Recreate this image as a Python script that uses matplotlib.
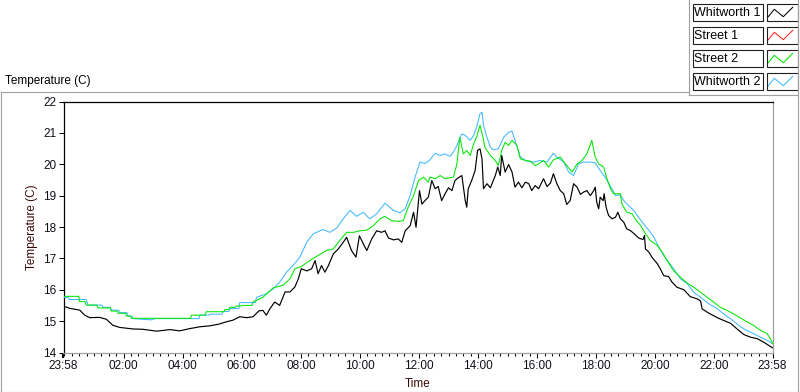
import matplotlib
matplotlib.use("Agg")
import matplotlib.pyplot as plt
from matplotlib.lines import Line2D
from matplotlib.patches import Rectangle

# ---------------- data (minutes since midnight, start 23:58 = -2) ----------------
w1_t = [-2, 10, 31, 41, 51, 71, 85, 98, 112, 139, 159, 187, 214, 234, 254, 275, 295, 315,
        329, 342, 356, 370, 383, 395, 403, 410, 417, 427, 437, 448, 458, 468, 475, 481, 492,
        502, 509, 515, 522, 529, 536, 546, 556, 566, 573, 583, 592, 599, 607, 614, 624, 634,
        644, 651, 658, 668, 678, 685, 692, 702, 709, 714, 721, 726, 732, 739, 746, 753, 759,
        766, 773, 780, 787, 793, 800, 807, 814, 817, 820, 827, 834, 839, 844, 848, 851, 858,
        865, 875, 880, 885, 888, 895, 902, 909, 915, 922, 929, 936, 943, 949, 956, 963, 973,
        980, 987, 993, 1000, 1007, 1014, 1020, 1027, 1034, 1041, 1048, 1054, 1061, 1068, 1075,
        1078, 1081, 1085, 1088, 1094, 1096, 1100, 1105, 1112, 1119, 1124, 1129, 1136, 1142,
        1149, 1156, 1166, 1175, 1178, 1180, 1187, 1193, 1204, 1210, 1217, 1227, 1234, 1244,
        1258, 1271, 1285, 1292, 1295, 1309, 1326, 1339, 1353, 1366, 1380, 1393, 1407, 1420,
        1431, 1438]
w1_v = [15.48, 15.41, 15.35, 15.19, 15.11, 15.12, 15.06, 14.87, 14.80, 14.75, 14.74, 14.68,
        14.73, 14.69, 14.76, 14.82, 14.85, 14.91, 14.98, 15.03, 15.14, 15.11, 15.14, 15.33,
        15.34, 15.19, 15.39, 15.61, 15.50, 15.93, 15.93, 16.09, 16.35, 16.67, 16.60, 16.67,
        16.93, 16.51, 16.77, 16.56, 16.77, 17.14, 17.30, 17.51, 17.67, 17.25, 17.04, 17.72,
        17.46, 17.25, 17.62, 17.88, 17.83, 17.88, 17.65, 17.59, 17.62, 17.51, 17.88, 18.04,
        18.47, 17.99, 19.16, 18.73, 18.84, 18.95, 19.48, 19.22, 19.29, 18.84, 19.06, 19.25,
        19.16, 19.48, 19.57, 19.64, 18.84, 18.63, 19.22, 19.48, 19.80, 20.44, 20.49, 20.17,
        19.22, 19.38, 19.25, 19.64, 19.91, 19.64, 20.28, 19.75, 19.99, 19.75, 19.27, 19.43,
        19.25, 19.43, 19.38, 19.16, 19.32, 19.22, 19.54, 19.29, 19.40, 19.70, 19.38, 19.16,
        19.06, 18.72, 18.84, 19.38, 19.27, 19.04, 19.11, 19.16, 19.00, 19.16, 19.27, 18.79,
        18.58, 18.95, 18.84, 19.06, 18.63, 18.37, 18.26, 18.31, 18.47, 18.26, 18.15, 17.94,
        17.89, 17.80, 17.65, 17.60, 17.73, 17.30, 17.20, 17.04, 16.83, 16.67, 16.45, 16.42,
        16.24, 16.08, 16.00, 15.78, 15.71, 15.64, 15.39, 15.25, 15.11, 15.02, 14.93, 14.75,
        14.57, 14.49, 14.44, 14.33, 14.22, 14.15]

s1_t = []
s1_v = []

s2_t = [-2, 29, 31, 42, 44, 66, 68, 93, 95, 107, 109, 124, 126, 134, 136, 256, 258, 286, 288,
        324, 326, 334, 336, 347, 349, 358, 360, 381, 383, 403, 424, 444, 458, 468, 481, 498,
        515, 532, 546, 559, 573, 587, 600, 614, 627, 641, 651, 664, 678, 688, 698, 709, 719,
        729, 739, 742, 753, 763, 773, 783, 790, 797, 803, 810, 817, 824, 831, 837, 844, 850,
        854, 865, 875, 881, 888, 895, 902, 909, 919, 926, 936, 946, 956, 963, 973, 983, 993,
        1007, 1020, 1031, 1041, 1051, 1061, 1071, 1078, 1085, 1095, 1102, 1109, 1115, 1129,
        1132, 1142, 1153, 1159, 1170, 1180, 1190, 1204, 1214, 1224, 1237, 1251, 1265, 1278,
        1292, 1305, 1319, 1332, 1346, 1359, 1373, 1387, 1400, 1414, 1427, 1436, 1438]
s2_v = [15.79, 15.79, 15.62, 15.62, 15.51, 15.51, 15.42, 15.42, 15.32, 15.32, 15.25, 15.25,
        15.16, 15.16, 15.09, 15.09, 15.19, 15.19, 15.30, 15.30, 15.37, 15.37, 15.44, 15.44,
        15.48, 15.48, 15.50, 15.50, 15.61, 15.76, 16.06, 16.14, 16.35, 16.67, 16.74, 16.93,
        17.09, 17.25, 17.30, 17.57, 17.83, 17.83, 17.88, 17.90, 18.04, 18.26, 18.34, 18.20,
        18.18, 18.20, 18.63, 19.00, 19.48, 19.59, 19.43, 19.59, 19.54, 19.64, 19.54, 19.57,
        19.59, 20.01, 20.86, 20.33, 20.44, 20.28, 20.65, 20.86, 21.24, 20.86, 20.54, 20.28,
        20.12, 19.96, 20.44, 20.70, 20.60, 20.76, 20.60, 20.17, 20.12, 20.10, 19.96, 20.01,
        20.12, 19.91, 20.14, 20.23, 19.96, 19.75, 20.01, 20.12, 20.33, 20.76, 20.23, 20.01,
        19.91, 19.53, 19.22, 19.06, 19.06, 18.74, 18.47, 18.42, 18.26, 18.05, 17.78, 17.57,
        17.41, 17.20, 16.93, 16.61, 16.40, 16.21, 16.08, 15.92, 15.76, 15.60, 15.44, 15.34,
        15.23, 15.10, 14.97, 14.86, 14.70, 14.60, 14.38, 14.28]

w2_t = [-2, 8, 10, 44, 48, 76, 78, 93, 95, 110, 112, 127, 129, 137, 139, 175, 185, 273, 275,
        293, 295, 320, 322, 334, 336, 354, 356, 388, 390, 410, 424, 437, 451, 464, 478, 492,
        505, 525, 539, 553, 566, 580, 593, 607, 620, 634, 651, 668, 681, 692, 702, 712, 722,
        732, 742, 753, 763, 773, 783, 790, 797, 807, 814, 824, 831, 837, 844, 848, 851, 858,
        865, 871, 881, 892, 902, 909, 915, 926, 939, 953, 966, 980, 993, 1000, 1014, 1024,
        1034, 1044, 1054, 1068, 1078, 1088, 1098, 1109, 1119, 1129, 1136, 1146, 1156, 1166,
        1176, 1187, 1197, 1207, 1217, 1227, 1237, 1251, 1265, 1278, 1292, 1309, 1326, 1339,
        1353, 1366, 1380, 1393, 1407, 1420, 1434, 1438]
w2_v = [15.76, 15.76, 15.69, 15.69, 15.51, 15.51, 15.44, 15.44, 15.35, 15.35, 15.27, 15.27,
        15.16, 15.16, 15.08, 15.04, 15.08, 15.08, 15.19, 15.19, 15.22, 15.22, 15.31, 15.31,
        15.40, 15.40, 15.59, 15.59, 15.76, 15.87, 16.03, 16.24, 16.56, 16.77, 17.04, 17.51,
        17.78, 17.92, 17.83, 17.97, 18.26, 18.53, 18.34, 18.47, 18.26, 18.42, 18.76, 18.53,
        18.45, 18.58, 19.00, 19.59, 20.07, 20.02, 20.14, 20.35, 20.28, 20.33, 20.25, 20.39,
        20.60, 20.97, 20.92, 20.76, 20.92, 21.18, 21.61, 21.66, 21.24, 20.86, 20.54, 20.46,
        20.49, 20.86, 21.02, 21.05, 20.76, 20.23, 20.10, 20.07, 20.12, 20.07, 20.35, 20.23,
        20.07, 19.75, 19.64, 20.01, 20.07, 20.07, 20.04, 19.80, 19.59, 19.30, 19.00, 19.03,
        18.84, 18.68, 18.53, 18.31, 18.10, 17.89, 17.68, 17.36, 17.09, 16.88, 16.67, 16.35,
        16.19, 15.92, 15.76, 15.55, 15.39, 15.23, 15.07, 14.91, 14.75, 14.65, 14.54, 14.44,
        14.33, 14.28]

series_names = ["Whitworth 1", "Street 1", "Street 2", "Whitworth 2"]
series_colors = ["#000000", "#ff2020", "#00e600", "#40b8ff"]

x_tick_labels = ["23:58", "02:00", "04:00", "06:00", "08:00", "10:00", "12:00",
                 "14:00", "16:00", "18:00", "20:00", "22:00", "23:58"]
y_ticks = [14, 15, 16, 17, 18, 19, 20, 21, 22]

# ---------------- figure ----------------
plt.rcParams['font.family'] = ['Liberation Sans', 'DejaVu Sans']
W, H = 800, 392
fig = plt.figure(figsize=(W / 100, H / 100), dpi=100)
fig.patch.set_facecolor("white")

def fx(x):
    return x / W

def fy(y):
    return 1 - y / H

L, R, T, B = 63.5, 772.5, 101.5, 352.5
ax = fig.add_axes([fx(L), fy(B), (R - L) / W, (B - T) / H])

ax.plot(w1_t, w1_v, color=series_colors[0], lw=0.85, zorder=3)
ax.plot(s1_t, s1_v, color=series_colors[1], lw=0.75, zorder=3)
ax.plot(w2_t, w2_v, color=series_colors[3], lw=0.75, zorder=4)
ax.plot(s2_t, s2_v, color=series_colors[2], lw=0.75, zorder=5)

t0, t1 = -2, 1438
ax.set_xlim(t0, t1)
ax.set_ylim(min(y_ticks), max(y_ticks))

def lab2min(i, s):
    if i == 0:
        return t0
    if i == len(x_tick_labels) - 1:
        return t1
    h, m = s.split(":")
    return int(h) * 60 + int(m)

xt = [lab2min(i, s) for i, s in enumerate(x_tick_labels)]
ax.set_xticks(xt)
ax.set_xticklabels(x_tick_labels)
ax.set_xticks(list(range(0, 1440, 15)), minor=True)
ax.set_yticks(y_ticks)
ax.set_yticklabels([str(v) for v in y_ticks])

tick_col = "#101018"
ax.tick_params(axis="both", which="major", direction="out", length=3.6, width=0.75,
               color="black", labelsize=8.5, labelcolor=tick_col)
ax.tick_params(axis="x", which="major", pad=2.0)
ax.tick_params(axis="y", which="major", pad=1.5)
ax.tick_params(axis="x", which="minor", direction="out", length=2.2, width=0.75, color="black")
ax.tick_params(axis="y", which="minor", left=False)
ax.xaxis.get_major_ticks()[0].tick1line.set_markeredgewidth(1.5)

for side in ["top", "left"]:
    ax.spines[side].set_color("black")
    ax.spines[side].set_linewidth(0.9)
for side in ["right", "bottom"]:
    ax.spines[side].set_color("#a0a0a0")
    ax.spines[side].set_linewidth(0.9)

lab_col = "#3a0a0a"
ax.set_xlabel("Time", fontsize=8.5, color=lab_col)
ax.xaxis.set_label_coords(0.5, (B - 384) / (B - T))
ax.xaxis.label.set_va("center")
ax.set_ylabel("Temperature (C)", fontsize=8.5, color=lab_col)
ax.yaxis.set_label_coords((32 - L) / (R - L), 0.5)
ax.yaxis.label.set_va("center")

# graph caption
fig.text(fx(5), fy(81), "Temperature (C)", fontsize=8.5, color="black", ha="left", va="center")

# panel frame lines
frame_col = "#a0a0a0"
def fline(x0, y0, x1, y1, col=frame_col, lw=0.8):
    fig.add_artist(Line2D([fx(x0), fx(x1)], [fy(y0), fy(y1)], color=col, lw=lw,
                          transform=fig.transFigure))

fline(0.5, 92, 689, 92)
fline(0.5, 92, 0.5, 391.5)
fline(0.5, 391.5, 797.5, 391.5)
fline(797.5, 0, 797.5, 391.5)
fline(689, 0, 689, 95)
fline(689, 95, 797.5, 95)

# legend
tops = [4, 27, 50, 73]
bh = 16.5
for name, col, top in zip(series_names, series_colors, tops):
    fig.add_artist(Rectangle((fx(692.5), fy(top + bh)), (762.5 - 692.5) / W, bh / H,
                             transform=fig.transFigure, fill=False, ec="#202020", lw=0.8))
    fig.add_artist(Rectangle((fx(766.5), fy(top + bh)), (797.5 - 766.5) / W, bh / H,
                             transform=fig.transFigure, fill=False, ec="#202020", lw=0.8))
    fig.text(fx(694.5), fy(top + bh / 2 + 0.5), name, fontsize=9, color="black",
             ha="left", va="center")
    px = [768.3, 774.3, 783.3, 792.7]
    py = [top + 12.7, top + 5.3, top + 12.7, top + 3.3]
    fig.add_artist(Line2D([fx(p) for p in px], [fy(p) for p in py], color=col, lw=0.75,
                          transform=fig.transFigure))

fig.savefig("out.png", dpi=100, facecolor="white")
